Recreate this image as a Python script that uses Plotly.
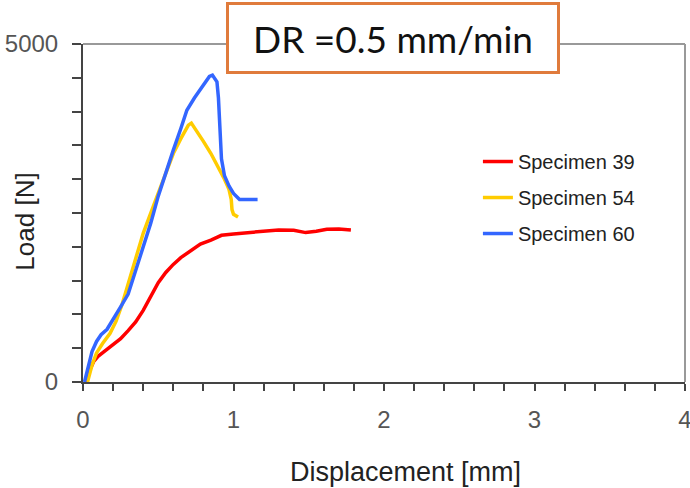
import plotly.graph_objects as go

# Data
x39 = [0.02, 0.04, 0.07, 0.10, 0.14, 0.19, 0.25, 0.30, 0.35, 0.40, 0.45, 0.50, 0.55, 0.60,
       0.65, 0.70, 0.78, 0.85, 0.92, 1.00, 1.10, 1.20, 1.30, 1.40, 1.48, 1.55, 1.62, 1.70, 1.78]
y39 = [0, 150, 300, 380, 450, 540, 640, 760, 890, 1060, 1260, 1470, 1620, 1740,
       1840, 1920, 2040, 2100, 2170, 2190, 2210, 2230, 2250, 2245, 2210, 2230, 2260, 2265, 2250]

x54 = [0.03, 0.06, 0.09, 0.13, 0.18, 0.22, 0.26, 0.30, 0.35, 0.40, 0.45, 0.50, 0.55, 0.60,
       0.65, 0.70, 0.72, 0.76, 0.80, 0.85, 0.90, 0.94, 0.97, 0.985, 0.99, 1.00, 1.03]
y54 = [0, 250, 430, 570, 720, 900, 1150, 1450, 1850, 2200, 2500, 2800, 3100, 3380,
       3600, 3800, 3830, 3700, 3560, 3380, 3180, 3000, 2850, 2700, 2550, 2480, 2440]

x60 = [0.01, 0.03, 0.06, 0.09, 0.12, 0.16, 0.20, 0.25, 0.30, 0.35, 0.40, 0.45, 0.50, 0.55,
       0.60, 0.65, 0.69, 0.74, 0.79, 0.84, 0.86, 0.89, 0.90, 0.91, 0.92, 0.94, 0.97, 1.00,
       1.04, 1.10, 1.16]
y60 = [0, 200, 450, 600, 700, 780, 920, 1110, 1300, 1650, 2000, 2350, 2750, 3100,
       3430, 3750, 4020, 4200, 4350, 4520, 4540, 4440, 4200, 3800, 3300, 3050, 2900, 2790,
       2700, 2700, 2700]

series = [
    ("Specimen 39", x39, y39, "#FF0000"),
    ("Specimen 54", x54, y54, "#FFCC00"),
    ("Specimen 60", x60, y60, "#3366FF"),
]

x_ticks = [0, 1, 2, 3, 4]
y_ticks = [0, 5000]

fig = go.Figure()
for i, (name, xs, ys, col) in enumerate(series):
    fig.add_trace(go.Scatter(x=xs, y=ys, mode="lines", name=name,
                             legendgroup=f"g{i}",
                             line=dict(color=col, width=3.5)))

tick_font = dict(family="Liberation Sans, Arial, sans-serif", size=24, color="#555")

fig.update_layout(
    width=690, height=488,
    margin=dict(l=83, r=5, t=44, b=106, autoexpand=False),
    paper_bgcolor="white", plot_bgcolor="white",
    showlegend=True,
    legend=dict(x=0.656, y=0.71, xanchor="left", yanchor="top",
                bgcolor="rgba(0,0,0,0)",
                font=dict(family="Liberation Sans, Arial, sans-serif", size=20, color="#222"),
                tracegroupgap=7, traceorder="grouped"),
    xaxis=dict(range=[0, 4], tickvals=x_ticks, ticks="outside", ticklen=7, tickwidth=2,
               tickcolor="#444", showline=True, linecolor="#444", linewidth=2,
               showgrid=False, zeroline=False, tickfont=tick_font, ticklabelstandoff=8,
               ticklabeloverflow="allow", automargin=False,
               minor=dict(dtick=0.2, ticks="outside", ticklen=7, tickwidth=2,
                          tickcolor="#444", showgrid=False)),
    yaxis=dict(range=[0, 5000], tickvals=y_ticks, ticks="outside", ticklen=9, tickwidth=2,
               tickcolor="#444", showline=True, linecolor="#444", linewidth=2,
               showgrid=False, zeroline=False, tickfont=tick_font, ticklabelstandoff=9,
               automargin=False,
               minor=dict(dtick=500, ticks="outside", ticklen=9, tickwidth=2,
                          tickcolor="#444", showgrid=False)),
    shapes=[
        dict(type="line", xref="paper", yref="paper", x0=0, x1=1, y0=1, y1=1,
             line=dict(color="#999", width=2)),
        dict(type="line", xref="paper", yref="paper", x0=1, x1=1, y0=0, y1=1,
             line=dict(color="#999", width=2)),
    ],
    annotations=[
        dict(text="Displacement [mm]", xref="paper", yref="paper", x=0.535, y=-0.266,
             xanchor="center", yanchor="middle", showarrow=False,
             font=dict(family="Liberation Sans, Arial, sans-serif", size=27, color="#222")),
        dict(text="Load [N]", xref="paper", yref="paper", x=-0.096, y=0.475,
             xanchor="center", yanchor="middle", showarrow=False, textangle=-90,
             font=dict(family="Liberation Sans, Arial, sans-serif", size=26, color="#222")),
        dict(text="DR =0.5 mm/min", xref="paper", yref="paper", x=0.515, y=1.019,
             xanchor="center", yanchor="middle", showarrow=False,
             width=326, height=64, bgcolor="white",
             bordercolor="#E07B3C", borderwidth=3,
             font=dict(family="Lato, sans-serif", size=37, color="#111")),
    ],
)

fig.write_html("out.html")
